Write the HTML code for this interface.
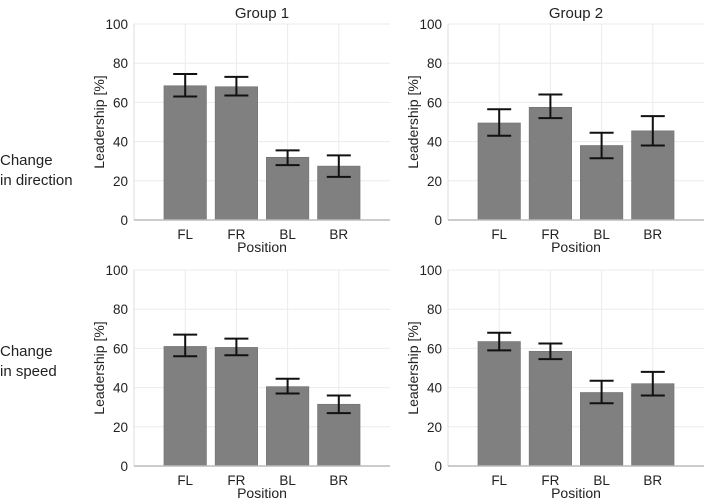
<!DOCTYPE html>
<html><head><meta charset="utf-8"><style>
html,body{margin:0;padding:0;background:#fff;}
svg{display:block;font-family:"Liberation Sans",Arial,sans-serif;}
</style></head><body>
<svg id="chart" width="709" height="499">
<text x="262" y="18" font-size="15" text-anchor="middle" fill="#222">Group 1</text>
<text x="576" y="18" font-size="15" text-anchor="middle" fill="#222">Group 2</text>
<text x="0" y="165" font-size="15" fill="#222"><tspan x="0">Change</tspan><tspan x="0" dy="20">in direction</tspan></text>
<text x="0" y="356" font-size="15" fill="#222"><tspan x="0">Change</tspan><tspan x="0" dy="20">in speed</tspan></text>
</svg>
<script>
const categories = ["FL","FR","BL","BR"];
const yTicks = [0,20,40,60,80,100];
const g1DirMean = [68.5,68,32,27.5];
const g1DirLow = [63,63.5,28,22];
const g1DirHigh = [74.5,73,35.5,33];
const g2DirMean = [49.5,57.5,38,45.5];
const g2DirLow = [43,52,31.5,38];
const g2DirHigh = [56.5,64,44.5,53];
const g1SpdMean = [61,60.5,40.5,31.5];
const g1SpdLow = [56,56.5,37,27];
const g1SpdHigh = [67,65,44.5,36];
const g2SpdMean = [63.5,58.5,37.5,42];
const g2SpdLow = [59,54.5,32,36];
const g2SpdHigh = [68,62.5,43.5,48];

const NS="http://www.w3.org/2000/svg";
const svg=document.getElementById('chart');
function mk(tag,attrs,parent){const e=document.createElementNS(NS,tag);for(const k in attrs)e.setAttribute(k,attrs[k]);(parent||svg).appendChild(e);return e;}

const panels=[
 {name:'g1-direction',left:134,right:390,top:24,bottom:220,mean:g1DirMean,low:g1DirLow,high:g1DirHigh},
 {name:'g2-direction',left:448,right:704,top:24,bottom:220,mean:g2DirMean,low:g2DirLow,high:g2DirHigh},
 {name:'g1-speed',left:134,right:390,top:270,bottom:466,mean:g1SpdMean,low:g1SpdLow,high:g1SpdHigh},
 {name:'g2-speed',left:448,right:704,top:270,bottom:466,mean:g2SpdMean,low:g2SpdLow,high:g2SpdHigh}
];
panels.forEach(p=>{
  const g=mk('g',{});
  
  
  const step=(p.right-p.left)/(categories.length+1);
  const x=i=>p.left+(i+1)*step;
  const y=v=>p.bottom-(v/100)*(p.bottom-p.top);
  yTicks.forEach(t=>{
    const l=mk('line',{x1:p.left,x2:p.right,y1:y(t),y2:y(t),stroke:'#ebebeb','stroke-width':1},g);
    
    
    const tx=mk('text',{x:p.left-6,y:y(t)+5,'font-size':13.5,'text-anchor':'end',fill:'#222'},g);
    tx.textContent=t;
    
    
  });
  categories.forEach((c,i)=>{
    const l=mk('line',{x1:x(i),x2:x(i),y1:p.top,y2:p.bottom,stroke:'#ebebeb','stroke-width':1},g);
    
    
  });
  const ax=mk('line',{x1:p.left,x2:p.left,y1:p.top,y2:p.bottom,stroke:'#ddd'},g);
  
  
  const bw=step*0.83;
  categories.forEach((c,i)=>{
    const r=mk('rect',{x:x(i)-bw/2,y:y(p.mean[i]),width:bw,height:y(0)-y(p.mean[i]),fill:'#808080',stroke:'#707070','stroke-width':0.6},g);
    
    
    const e=mk('path',{d:`M${x(i)-12},${y(p.high[i])}H${x(i)+12}M${x(i)},${y(p.high[i])}V${y(p.low[i])}M${x(i)-12},${y(p.low[i])}H${x(i)+12}`,stroke:'#111','stroke-width':2,fill:'none'},g);
    
    
    const t=mk('text',{x:x(i),y:p.bottom+19,'font-size':13.5,'text-anchor':'middle',fill:'#222'},g);
    t.textContent=c;
    
    
  });
  const bx=mk('line',{x1:p.left,x2:p.right,y1:p.bottom,y2:p.bottom,stroke:'#bbb','stroke-width':1.5},g);
  
  
  const xt=mk('text',{x:x(1.5),y:p.bottom+32,'font-size':14,'text-anchor':'middle',fill:'#222'},g);
  xt.textContent='Position';
  
  
  const cy=(p.top+p.bottom)/2, cx=p.left-30;
  const yt=mk('text',{x:cx,y:cy,'font-size':14,'text-anchor':'middle',fill:'#222',transform:`rotate(-90 ${cx} ${cy})`},g);
  yt.textContent='Leadership [%]';
  
  
});
</script>
</body></html>
